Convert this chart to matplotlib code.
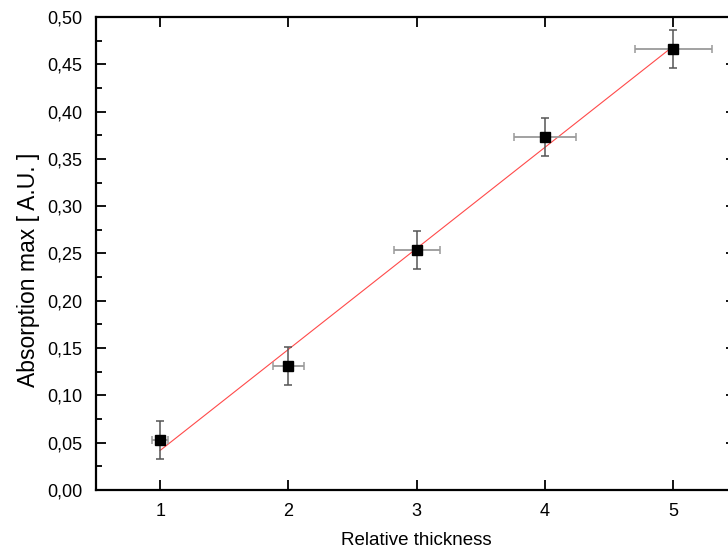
import numpy as np
import matplotlib
matplotlib.use("Agg")
import matplotlib.pyplot as plt
from matplotlib.ticker import MultipleLocator, FuncFormatter

plt.rcParams['font.family'] = ['Liberation Sans', 'DejaVu Sans']

thickness = [1, 2, 3, 4, 5]
absorption = [0.053, 0.131, 0.254, 0.373, 0.466]
absorption_err = [0.02, 0.02, 0.02, 0.02, 0.02]
thickness_err = [0.06, 0.12, 0.18, 0.24, 0.30]
x_ticks = [1, 2, 3, 4, 5]

fig = plt.figure(figsize=(7.28, 5.51), dpi=100)
ax = fig.add_axes([96 / 728, 61 / 551, 640 / 728, 473 / 551])

# linear fit through the measurements
slope, intercept = np.polyfit(thickness, absorption, 1)
fit_x = np.array([thickness[0], thickness[-1]])
ax.plot(fit_x, slope * fit_x + intercept, color='#ff4a4a', lw=0.8, zorder=2)

# horizontal and vertical uncertainties
ax.errorbar(thickness, absorption, xerr=thickness_err, fmt='none',
            ecolor='#9a9a9a', elinewidth=1.3, capsize=3.2, capthick=1.1, zorder=3)
ax.errorbar(thickness, absorption, yerr=absorption_err, fmt='none',
            ecolor='#555555', elinewidth=1.1, capsize=3.2, capthick=1.1, zorder=3)
ax.plot(thickness, absorption, 's', color='black', ms=7.2, zorder=4)

ax.set_xlim(0.5, 5.49)
ax.set_ylim(0.0, 0.5)
ax.set_xticks(x_ticks)
ax.yaxis.set_major_locator(MultipleLocator(0.05))
ax.yaxis.set_minor_locator(MultipleLocator(0.025))
ax.yaxis.set_major_formatter(FuncFormatter(lambda v, p: f"{v:.2f}".replace('.', ',')))

for s in ax.spines.values():
    s.set_linewidth(1.6)
ax.tick_params(which='both', direction='in', top=True, right=True, width=1.3,
               labelsize=13, colors='black')
ax.tick_params(which='major', length=7)
ax.tick_params(which='minor', length=4)
ax.tick_params(axis='y', pad=10)
ax.tick_params(axis='x', pad=9)

ax.set_xlabel('Relative thickness', fontsize=13.5, labelpad=9)
ax.set_ylabel('Absorption max [ A.U. ]', fontsize=16.5)
ax.yaxis.set_label_coords(-56 / 640, 0.465)

fig.savefig('out.png', dpi=100)
